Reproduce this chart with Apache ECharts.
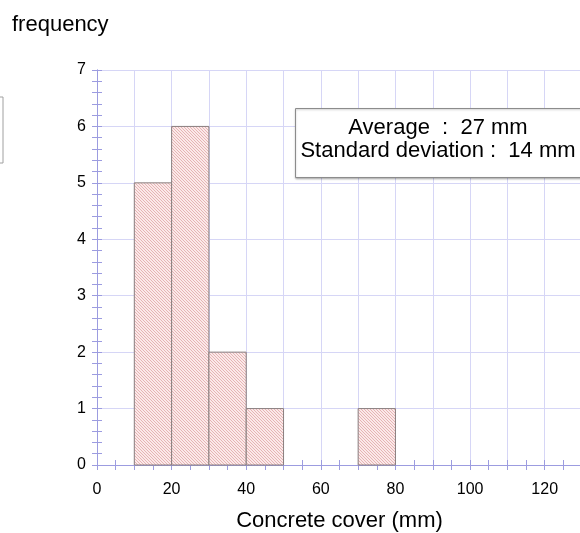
<!DOCTYPE html>
<html>
<head>
  <meta charset="utf-8">
  <title>Concrete cover histogram</title>
  <script src="https://cdn.jsdelivr.net/npm/echarts@6/dist/echarts.min.js"></script>
  <style>
    html, body { margin: 0; padding: 0; background: #fff; }
  </style>
</head>
<body>
<div id="main" style="width: 580px;height:533px;"></div>
<script type="text/javascript">
  // histogram data: bin edges (mm) and counts
  var binStart = [10, 20, 30, 40, 70];
  var binEnd = [20, 30, 40, 50, 80];
  var counts = [5, 6, 2, 1, 1];

  var xTicks = [0, 20, 40, 60, 80, 100, 120];
  var statLines = ['Average  :  27 mm', 'Standard deviation :  14 mm'];

  var axisColor = '#9c9ce0';
  var gridColor = '#d6d6f6';
  var font = 'Liberation Sans, Arial, sans-serif';

  // light pink hatch pattern
  var pat = document.createElement('canvas');
  pat.width = 3; pat.height = 3;
  var pc = pat.getContext('2d');
  pc.fillStyle = '#fbe9e9';
  pc.fillRect(0, 0, 3, 3);
  pc.fillStyle = '#e6b4b4';
  for (var i = 0; i < 3; i++) pc.fillRect(i, i, 1, 1);

  var data = binStart.map(function (s, i) { return [s, binEnd[i], counts[i]]; });

  var chartDom = document.getElementById('main');
  var myChart = echarts.init(chartDom);
  var option;

  option = {
    animation: false,
    grid: { left: 97, top: 70, right: -2, bottom: 68, outerBoundsMode: 'none', containLabel: false },
    xAxis: [
      {
        type: 'value', min: 0, max: 130, interval: 10, position: 'bottom',
        name: 'Concrete cover (mm)', nameLocation: 'middle', nameGap: 45,
        nameTextStyle: { fontSize: 22, color: '#000', fontFamily: font },
        axisLine: { show: true, lineStyle: { color: axisColor } },
        axisTick: { show: true, inside: true, length: 5, lineStyle: { color: axisColor } },
        minorTick: { show: true, splitNumber: 2, length: 5, lineStyle: { color: axisColor } },
        splitLine: { show: true, lineStyle: { color: gridColor } },
        axisLabel: {
          margin: 17, fontSize: 16, color: '#000', fontFamily: font,
          formatter: function (v) { return xTicks.indexOf(v) >= 0 ? String(v) : ''; }
        }
      },
      {
        type: 'value', min: 0, max: 130, interval: 10, position: 'top',
        axisLine: { show: true, lineStyle: { color: axisColor } },
        axisTick: { show: true, inside: true, length: 5, lineStyle: { color: axisColor } },
        minorTick: { show: true, splitNumber: 2, length: 5, lineStyle: { color: axisColor } },
        splitLine: { show: false },
        axisLabel: { show: false }
      }
    ],
    yAxis: [
      {
        type: 'value', min: 0, max: 7, interval: 1, position: 'left',
        axisLine: { show: true, lineStyle: { color: axisColor } },
        axisTick: { show: true, inside: true, length: 5, lineStyle: { color: axisColor } },
        minorTick: { show: true, splitNumber: 5, length: 5, lineStyle: { color: axisColor } },
        splitLine: { show: true, lineStyle: { color: gridColor } },
        axisLabel: { margin: 11, fontSize: 16, color: '#000', fontFamily: font }
      },
      {
        type: 'value', min: 0, max: 7, interval: 1, position: 'right',
        axisLine: { show: true, lineStyle: { color: axisColor } },
        axisTick: { show: true, inside: true, length: 5, lineStyle: { color: axisColor } },
        minorTick: { show: true, splitNumber: 5, length: 5, lineStyle: { color: axisColor } },
        splitLine: { show: false },
        axisLabel: { show: false }
      }
    ],
    graphic: [
      {
        type: 'text', left: 12, top: 14,
        style: { text: 'frequency', fontSize: 22, fill: '#000', fontFamily: font }
      },
      {
        type: 'rect', shape: { x: -20, y: 97, width: 23, height: 66 },
        style: { fill: '#fff', stroke: '#a0a0a0', lineWidth: 1 }
      },
      {
        type: 'rect', z: 100, shape: { x: 295.5, y: 108.5, width: 320, height: 69 },
        style: { fill: '#fff', stroke: '#8c8c8c', lineWidth: 1,
                 shadowColor: 'rgba(0,0,0,0.25)', shadowBlur: 2, shadowOffsetY: 1 }
      },
      {
        type: 'text', z: 101, x: 438, y: 128,
        style: { text: statLines[0], fontSize: 22, fill: '#000', fontFamily: font,
                 align: 'center', verticalAlign: 'middle' }
      },
      {
        type: 'text', z: 101, x: 438, y: 151,
        style: { text: statLines[1], fontSize: 22, fill: '#000', fontFamily: font,
                 align: 'center', verticalAlign: 'middle' }
      }
    ],
    series: [
      {
        type: 'custom',
        xAxisIndex: 0,
        yAxisIndex: 0,
        encode: { x: [0, 1], y: 2 },
        data: data,
        renderItem: function (params, api) {
          var p0 = api.coord([api.value(0), api.value(2)]);
          var p1 = api.coord([api.value(1), 0]);
          return {
            type: 'rect',
            shape: { x: p0[0], y: p0[1], width: p1[0] - p0[0], height: p1[1] - p0[1] },
            style: { fill: { image: pat, repeat: 'repeat' }, stroke: '#8a7f7f', lineWidth: 1 }
          };
        }
      }
    ]
  };

  option && myChart.setOption(option);
</script>
</body>
</html>
